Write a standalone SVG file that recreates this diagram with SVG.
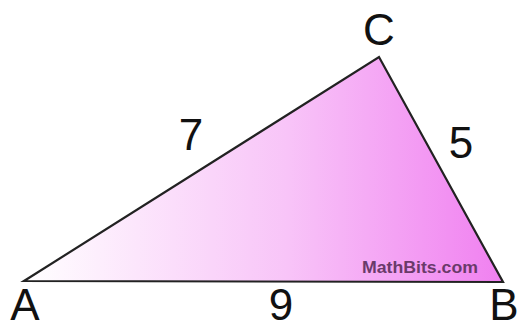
<svg xmlns="http://www.w3.org/2000/svg" width="519" height="330" viewBox="0 0 519 330">
<style>
.lbl{font-family:"Liberation Sans",Arial,sans-serif;font-size:44px;fill:#111;text-anchor:middle}
.wm{font-family:"Liberation Sans",Arial,sans-serif;font-size:17px;font-weight:bold;fill:#6a3a6a;text-anchor:middle}
</style>
<defs>
<linearGradient id="g" gradientUnits="userSpaceOnUse" x1="24" y1="0" x2="503" y2="0">
<stop offset="0" stop-color="#ffffff"/>
<stop offset="0.55" stop-color="#f8c4f8"/>
<stop offset="1" stop-color="#f080f0"/>
</linearGradient>
</defs>
<g id="triangle">
<polygon points="24,281 379,57 503,282" fill="url(#g)" stroke="#222" stroke-width="2.2" stroke-linejoin="miter"/>
</g>
<g id="watermark"><text class="wm" x="420" y="273" textLength="116" lengthAdjust="spacingAndGlyphs">MathBits.com</text></g>
<g id="vertex-A"><text class="lbl" x="25" y="320">A</text></g>
<g id="vertex-B"><text class="lbl" x="504" y="320">B</text></g>
<g id="vertex-C"><text class="lbl" x="379" y="45">C</text></g>
<g id="side-AC"><text class="lbl" x="191" y="150">7</text></g>
<g id="side-BC"><text class="lbl" x="461" y="158">5</text></g>
<g id="side-AB"><text class="lbl" x="281" y="320">9</text></g>
</svg>
